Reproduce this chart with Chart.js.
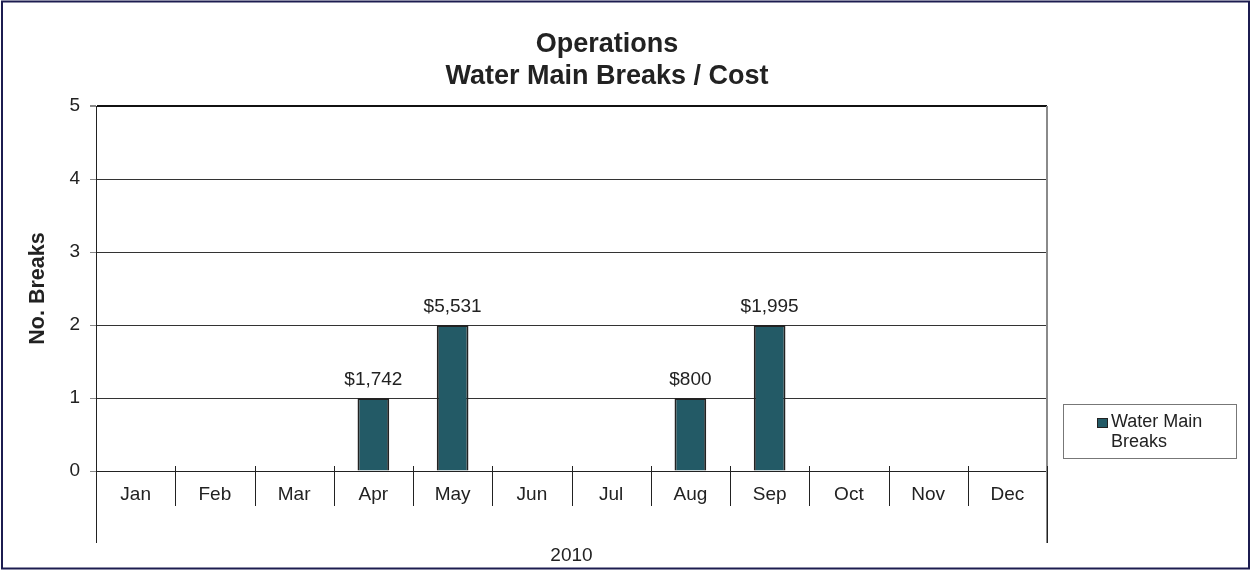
<!DOCTYPE html>
<html lang="en">
<head>
    <meta charset="UTF-8">
    <title>Operations - Water Main Breaks / Cost</title>
    <script src="https://cdn.jsdelivr.net/npm/chart.js@4"></script>
    <style>
        body {
            margin: 0;
            background: #fff;
        }
        #wrap {
            width: 1255px;
            height: 571px;
        }
    </style>
</head>
<body>
<div id="wrap"><canvas id="breaksChart" width="1255" height="571"></canvas></div>
<script>
    // data
    const months = ['Jan', 'Feb', 'Mar', 'Apr', 'May', 'Jun', 'Jul', 'Aug', 'Sep', 'Oct', 'Nov', 'Dec'];
    const yearLabel = '2010';
    const breaks = [0, 0, 0, 1, 2, 0, 0, 1, 2, 0, 0, 0];
    const costs = [null, null, null, 1742, 5531, null, null, 800, 1995, null, null, null];
    const titleLines = ['Operations', 'Water Main Breaks / Cost'];
    const seriesName = 'Water Main Breaks';
    const legendLines = ['Water Main', 'Breaks'];
    const yAxisTitle = 'No. Breaks';
    const yMax = 5;

    const FONT = "Arial, 'Liberation Sans', sans-serif";
    const barColor = '#235a66';
    const inkColor = '#222';

    // extra drawing: title, frame, category dividers, year row, cost labels, legend
    const decor = {
        id: 'decor',
        afterDraw(chart) {
            const ctx = chart.ctx;
            const area = chart.chartArea;
            const xs = chart.scales.x;
            ctx.save();

            // outer frame
            ctx.strokeStyle = '#1c1c50';
            ctx.lineWidth = 2;
            ctx.strokeRect(2, 1.5, 1247, 567);

            // title
            ctx.fillStyle = inkColor;
            ctx.font = 'bold 27px ' + FONT;
            ctx.textAlign = 'center';
            ctx.textBaseline = 'middle';
            ctx.fillText(titleLines[0], 607, 45);
            ctx.fillText(titleLines[1], 607, 77);

            // right border of plot, runs down through the label rows
            ctx.strokeStyle = '#8a8a8a';
            ctx.lineWidth = 2;
            ctx.beginPath();
            ctx.moveTo(area.right, area.top);
            ctx.lineTo(area.right, area.bottom + 72);
            ctx.stroke();

            // category dividers
            ctx.strokeStyle = inkColor;
            ctx.lineWidth = 1;
            for (let i = 0; i <= months.length; i++) {
                const x = Math.round(xs.getPixelForValue(i - 0.5)) + 0.5;
                const outer = i === 0 || i === months.length;
                ctx.beginPath();
                ctx.moveTo(x, area.bottom - 5);
                ctx.lineTo(x, area.bottom + (outer ? 72 : 35));
                ctx.stroke();
            }

            // year row
            ctx.font = '19px ' + FONT;
            ctx.fillText(yearLabel, (xs.left + xs.right) / 2, area.bottom + 85);

            // cost labels on bars
            const meta = chart.getDatasetMeta(0);
            meta.data.forEach((bar, i) => {
                if (costs[i] == null) return;
                ctx.fillText('$' + costs[i].toLocaleString('en-US'), bar.x, bar.y - 18);
            });

            // legend
            ctx.strokeStyle = '#777';
            ctx.lineWidth = 1;
            ctx.strokeRect(1063.5, 404.5, 173, 54);
            ctx.fillStyle = barColor;
            ctx.fillRect(1097, 418, 11, 10);
            ctx.strokeStyle = inkColor;
            ctx.strokeRect(1097.5, 418.5, 10, 9);
            ctx.fillStyle = inkColor;
            ctx.font = '18px ' + FONT;
            ctx.textAlign = 'left';
            ctx.fillText(legendLines[0], 1111, 422);
            ctx.fillText(legendLines[1], 1111, 442);

            ctx.restore();
        }
    };

    new Chart(document.getElementById('breaksChart'), {
        type: 'bar',
        data: {
            labels: months,
            datasets: [{
                label: seriesName,
                data: breaks,
                backgroundColor: barColor,
                borderColor: inkColor,
                borderWidth: 2,
                barPercentage: 0.4,
                categoryPercentage: 1
            }]
        },
        options: {
            responsive: false,
            animation: false,
            devicePixelRatio: 1,
            layout: {
                padding: { left: 21, top: 106, right: 208, bottom: 40 }
            },
            plugins: {
                legend: { display: false },
                title: { display: false },
                tooltip: { enabled: false }
            },
            scales: {
                x: {
                    grid: { display: false },
                    border: { display: true, color: inkColor, width: 1 },
                    ticks: {
                        color: inkColor,
                        font: { family: FONT, size: 19 },
                        padding: 4,
                        maxRotation: 0
                    },
                    afterFit(scale) { scale.height = 60; }
                },
                y: {
                    min: 0,
                    max: yMax,
                    ticks: {
                        stepSize: 1,
                        color: inkColor,
                        font: { family: FONT, size: 19 },
                        padding: 10
                    },
                    grid: {
                        color: ctx => ctx.tick && ctx.tick.value === yMax ? '#111' : '#333',
                        lineWidth: ctx => ctx.tick && ctx.tick.value === yMax ? 2 : 1,
                        tickLength: 6,
                        tickColor: '#888'
                    },
                    border: { display: true, color: inkColor, width: 1 },
                    title: {
                        display: true,
                        text: yAxisTitle,
                        color: inkColor,
                        font: { family: FONT, size: 21.5, weight: 'bold' },
                        padding: 4
                    },
                    afterFit(scale) { scale.width = 75; }
                }
            }
        },
        plugins: [decor]
    });
</script>
</body>
</html>
